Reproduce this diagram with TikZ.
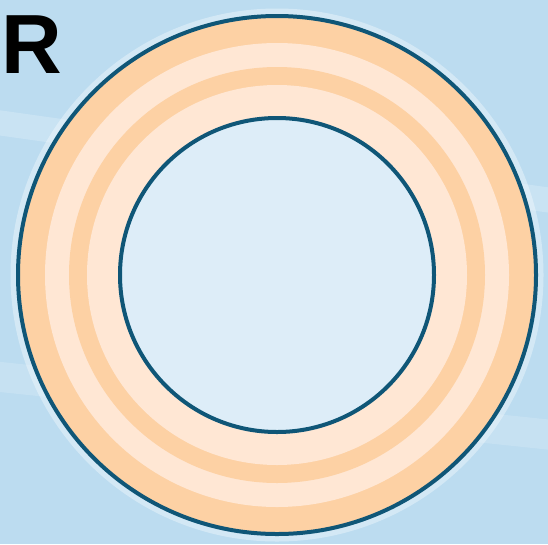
\documentclass[tikz,border=0pt]{standalone}
\usepackage{fontspec}
\setmainfont{Liberation Sans}
\usepackage{xcolor}
\usepackage{tikz}
\usetikzlibrary{calc}

\definecolor{nen}{HTML}{BCDCF0}
\definecolor{nenSang}{HTML}{D6EAF7}
\definecolor{cam}{HTML}{FDD1A4}
\definecolor{camNhat}{HTML}{FFE7D4}
\definecolor{trong}{HTML}{DDEDF8}
\definecolor{vien}{HTML}{0F5677}

\begin{document}
\begin{tikzpicture}[x=1pt, y=-1pt,
    vienTron/.style={draw=vien, line width=4pt}]
    % Nen
    \fill[nen] (0,0) rectangle (548,544);
    \useasboundingbox (0,0) rectangle (548,544);
    \fill[nenSang, opacity=0.5, rotate around={-8:(274,272)}]
        (-40,150) rectangle (600,175);
    \fill[nenSang, opacity=0.4, rotate around={-6:(274,272)}]
        (-40,390) rectangle (600,420);
    % Tam
    \coordinate (O) at (277,275);
    % Quang sang quanh vong ngoai
    \draw[white, opacity=0.35, line width=7pt] (O) circle[radius=263pt];
    % Cac vong mau
    \fill[cam] (O) circle[radius=259pt];
    \fill[camNhat] (O) circle[radius=232pt];
    \fill[cam] (O) circle[radius=208pt];
    \fill[camNhat] (O) circle[radius=190pt];
    \fill[trong] (O) circle[radius=157pt];
    % Duong vien
    \draw[vienTron] (O) circle[radius=259pt];
    \draw[vienTron] (O) circle[radius=157pt];
    % Nhan
    \node[anchor=base west, inner sep=0pt, font=\bfseries\fontsize{84}{84}\selectfont]
        (nhanR) at (1,73) {R};
\end{tikzpicture}
\end{document}
